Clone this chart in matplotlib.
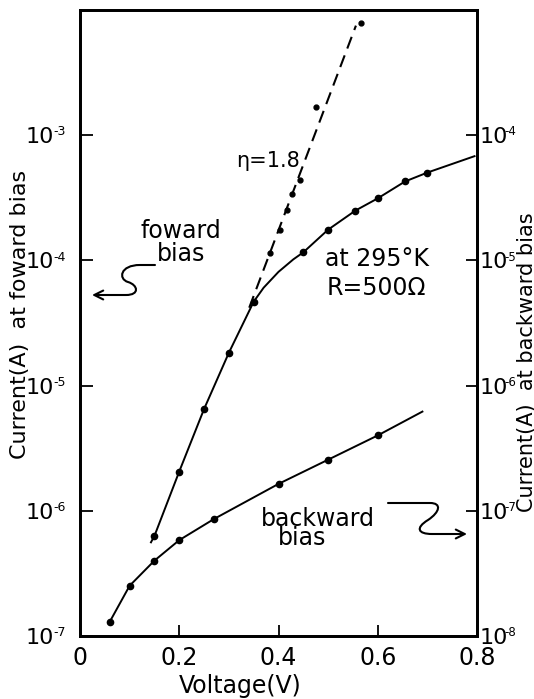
import numpy as np
import matplotlib
matplotlib.use("Agg")
import matplotlib.pyplot as plt
from matplotlib import font_manager
from matplotlib.transforms import offset_copy
from matplotlib.path import Path
from matplotlib.patches import FancyArrowPatch

# forward bias, measured points (left axis)
fwd_v = [0.15, 0.20, 0.25, 0.30, 0.35, 0.45, 0.50, 0.555, 0.60, 0.655, 0.70]
fwd_i = [6.3e-7, 2.06e-6, 6.5e-6, 1.83e-5, 4.68e-5, 1.16e-4, 1.76e-4, 2.5e-4, 3.13e-4, 4.27e-4, 5.03e-4]
# drawn curve through them
fwd_curve_v = [0.143, 0.15, 0.20, 0.25, 0.30, 0.35, 0.37, 0.40, 0.43, 0.45, 0.50, 0.555,
               0.60, 0.655, 0.70, 0.795]
fwd_curve_i = [5.6e-7, 6.3e-7, 2.06e-6, 6.5e-6, 1.83e-5, 4.68e-5, 6.05e-5, 8.1e-5, 1.02e-4,
               1.16e-4, 1.76e-4, 2.5e-4, 3.13e-4, 4.27e-4, 5.03e-4, 6.8e-4]

# forward points corrected for series resistance
corr_v = [0.382, 0.403, 0.417, 0.427, 0.444, 0.476, 0.567]
corr_i = [1.14e-4, 1.76e-4, 2.52e-4, 3.37e-4, 4.37e-4, 1.68e-3, 7.87e-3]
# eta = 1.8 line
fit_v = [0.341, 0.556]
fit_i = [4.19e-5, 7.5e-3]

# backward bias (right axis)
bwd_v = [0.06, 0.10, 0.15, 0.20, 0.27, 0.40, 0.50, 0.60]
bwd_i = [1.30e-8, 2.52e-8, 4.0e-8, 5.83e-8, 8.6e-8, 1.64e-7, 2.56e-7, 4.0e-7]
bwd_curve_v = bwd_v + [0.69]
bwd_curve_i = bwd_i + [6.2e-7]

x_ticks = [0, 0.2, 0.4, 0.6, 0.8]
x_labels = ["0", "0.2", "0.4", "0.6", "0.8"]
left_ticks = [1e-7, 1e-6, 1e-5, 1e-4, 1e-3]
left_exp = ["-7", "-6", "-5", "-4", "-3"]
right_ticks = [1e-8, 1e-7, 1e-6, 1e-5, 1e-4]
right_exp = ["-8", "-7", "-6", "-5", "-4"]

names = {f.name for f in font_manager.fontManager.ttflist}
narrow = 'Liberation Sans Narrow' if 'Liberation Sans Narrow' in names else 'DejaVu Sans'
plt.rcParams['font.family'] = [narrow, 'DejaVu Sans']

W, H = 534, 699
fig = plt.figure(figsize=(W / 100, H / 100), dpi=100)
ax = fig.add_axes([80 / W, 1 - 636 / H, 397 / W, 626 / H])
ax.set_yscale('log')
ax.set_xlim(0, 0.8)
ax.set_ylim(1e-7, 1e-2)

ax.plot(fwd_curve_v, fwd_curve_i, color='black', lw=1.4)
ax.plot(fwd_v, fwd_i, 'o', color='black', ms=4.5)
ax.plot(fit_v, fit_i, color='black', lw=1.5, ls=(0, (6, 3.5)))
ax.plot(corr_v, corr_i, 'o', color='black', ms=3.5)

ax.set_xticks(x_ticks)
ax.set_xticklabels(x_labels)
ax.set_yticks(left_ticks)
ax.set_yticklabels(["10"] * len(left_ticks))
ax.minorticks_off()
ax.tick_params(axis='x', direction='in', length=8, width=1.3, pad=7, labelsize=17)
ax.tick_params(axis='y', direction='in', length=9, width=1.3, pad=19, labelsize=16)
for s in ax.spines.values():
    s.set_linewidth(2)

ax2 = ax.twinx()
ax2.set_yscale('log')
ax2.set_ylim(1e-8, 1e-3)
ax2.plot(bwd_curve_v, bwd_curve_i, color='black', lw=1.4)
ax2.plot(bwd_v, bwd_i, 'o', color='black', ms=4.5)
ax2.set_yticks(right_ticks)
ax2.set_yticklabels(["10"] * len(right_ticks))
ax2.minorticks_off()
ax2.tick_params(axis='y', direction='in', length=8, width=1.3, pad=2, labelsize=16)
for s in ax2.spines.values():
    s.set_linewidth(2)

# small exponents next to the "10" tick labels
left_tr = offset_copy(ax.get_yaxis_transform(), fig=fig, x=-19, y=7, units='points')
for t, e in zip(left_ticks, left_exp):
    ax.text(0, t, e, transform=left_tr, fontsize=9, ha='left', va='top')
right_tr = offset_copy(ax2.get_yaxis_transform(), fig=fig, x=19.5, y=7, units='points')
for t, e in zip(right_ticks, right_exp):
    ax2.text(1, t, e, transform=right_tr, fontsize=8.5, ha='left', va='top')

ax.set_xlabel("Voltage(V)", fontsize=17, va='center')
ax.xaxis.set_label_coords(0.403, -0.08)
ax.set_ylabel("Current(A)  at foward bias", fontsize=16, va='center')
ax.yaxis.set_label_coords(-0.15, 0.513)
fig.text(527 / W, 1 - 362 / H, "Current(A)  at backward bias", rotation=90,
         fontsize=15, ha='center', va='center')

ax.text(0.474, 0.759, "η=1.8", transform=ax.transAxes, fontsize=15, ha='center', va='center')
ax.text(0.254, 0.629, "foward\nbias", transform=ax.transAxes, fontsize=17,
        ha='center', va='center', linespacing=0.95)
ax.text(0.748, 0.602, "at 295°K", transform=ax.transAxes, fontsize=17, ha='center', va='center')
ax.text(0.746, 0.556, "R=500Ω", transform=ax.transAxes, fontsize=17, ha='center', va='center')
ax.text(0.600, 0.187, "backward", transform=ax.transAxes, fontsize=17, ha='center', va='center')
ax.text(0.559, 0.157, "bias", transform=ax.transAxes, fontsize=17, ha='center', va='center')


def squiggle(pts, codes):
    verts = [(px / W, 1 - py / H) for px, py in pts]
    arr = FancyArrowPatch(path=Path(verts, codes), transform=fig.transFigure,
                          arrowstyle='->', mutation_scale=16, lw=1.5, color='black')
    fig.add_artist(arr)


M, L, C = Path.MOVETO, Path.LINETO, Path.CURVE4
squiggle([(155, 265), (140, 265), (120, 265), (118, 279), (128, 282),
          (138, 285), (140, 295), (126, 295), (92, 295)],
         [M, L, C, C, C, C, C, C, L])
squiggle([(388, 503), (430, 503), (442, 503), (440, 512), (428, 520),
          (415, 528), (418, 534), (432, 534), (467, 534)],
         [M, L, C, C, C, C, C, C, L])

fig.savefig("out.png", dpi=100)
